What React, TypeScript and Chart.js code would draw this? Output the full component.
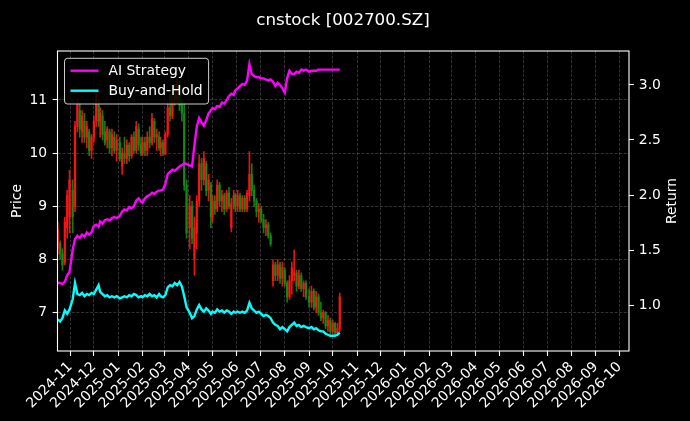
import React, { useEffect, useRef } from 'react';
import { Chart, registerables } from 'chart.js';

Chart.register(...registerables);

const chartTitle = 'cnstock [002700.SZ]';
const priceLabel = 'Price';
const returnLabel = 'Return';

const dates = [
  '2024-10-16', '2024-10-19', '2024-10-22', '2024-10-25', '2024-10-28', '2024-10-31',
  '2024-11-04', '2024-11-07', '2024-11-10', '2024-11-13', '2024-11-16', '2024-11-19', '2024-11-22', '2024-11-25', '2024-11-28',
  '2024-12-01', '2024-12-04', '2024-12-07', '2024-12-09', '2024-12-12', '2024-12-15', '2024-12-18', '2024-12-21', '2024-12-24', '2024-12-27', '2024-12-30',
  '2025-01-03', '2025-01-06', '2025-01-09', '2025-01-12', '2025-01-15', '2025-01-18', '2025-01-21', '2025-01-24', '2025-01-27', '2025-01-30',
  '2025-02-01', '2025-02-04', '2025-02-07', '2025-02-10', '2025-02-13', '2025-02-16', '2025-02-19', '2025-02-22', '2025-02-24', '2025-02-27',
  '2025-03-02', '2025-03-05', '2025-03-08', '2025-03-11', '2025-03-14', '2025-03-17', '2025-03-20', '2025-03-23', '2025-03-26', '2025-03-29',
  '2025-04-02', '2025-04-05', '2025-04-08', '2025-04-11', '2025-04-14', '2025-04-17', '2025-04-20', '2025-04-23', '2025-04-26', '2025-04-29',
  '2025-05-01', '2025-05-04', '2025-05-07', '2025-05-10', '2025-05-13', '2025-05-16', '2025-05-19', '2025-05-22', '2025-05-25', '2025-05-28', '2025-05-30',
  '2025-06-02', '2025-06-05', '2025-06-08', '2025-06-11', '2025-06-14', '2025-06-17', '2025-06-20', '2025-06-23', '2025-06-26', '2025-06-29',
  '2025-07-02', '2025-07-05', '2025-07-08', '2025-07-11', '2025-07-14', '2025-07-17', '2025-07-20', '2025-07-23', '2025-07-26', '2025-07-29',
  '2025-08-01', '2025-08-04', '2025-08-07', '2025-08-10', '2025-08-13', '2025-08-16', '2025-08-19', '2025-08-22', '2025-08-25', '2025-08-28',
  '2025-09-01', '2025-09-04', '2025-09-07', '2025-09-10', '2025-09-13', '2025-09-16', '2025-09-19', '2025-09-22', '2025-09-25', '2025-09-28',
  '2025-10-01', '2025-10-04', '2025-10-07', '2025-10-10',
];

const open = [
  8.2, 8.3, 8.1, 7.95, 8.6, 8.8,
  9.3, 9.0, 10.5, 10.8, 10.4, 10.6, 10.3, 10.4, 10.05,
  10.3, 10.6, 10.9, 10.6, 10.7, 10.4, 10.25, 10.4, 10.1, 10.3, 10.05,
  10.2, 9.75, 10.0, 9.9, 10.15, 9.95, 10.3, 10.05, 10.45, 10.15,
  10.0, 10.2, 10.05, 10.3, 10.2, 10.6, 10.3, 10.3, 10.1, 10.2,
  10.0, 10.35, 10.85, 10.7, 11.1, 11.0, 11.3, 10.9, 10.75, 9.4,
  8.6, 9.0, 8.0, 8.5, 9.1, 9.8, 9.5, 9.8, 9.3, 9.4,
  8.8, 9.1, 8.95, 9.4, 9.1, 9.2, 8.95, 9.25, 8.6, 9.05, 9.2,
  9.0, 9.2, 8.95, 9.15, 8.95, 9.2, 9.6, 9.3, 9.1, 8.9,
  8.95, 8.75, 8.6, 8.65, 8.45, 7.6, 7.9, 7.7, 7.9, 7.65,
  7.8, 7.55, 7.3, 7.6, 7.7, 7.75, 7.5, 7.7, 7.45, 7.55,
  7.3, 7.2, 7.4, 7.1, 7.3, 7.0, 6.9, 7.0, 6.75, 6.85,
  6.65, 6.8, 6.62, 6.7,
];

const high = [
  8.7, 8.35, 8.2, 8.8, 9.3, 9.68,
  9.5, 10.6, 11.0, 10.95, 10.8, 10.75, 10.6, 10.45, 10.35,
  10.7, 11.15, 11.0, 10.85, 10.8, 10.6, 10.5, 10.45, 10.45, 10.4, 10.35,
  10.3, 10.1, 10.3, 10.25, 10.2, 10.35, 10.4, 10.6, 10.55, 10.3,
  10.3, 10.3, 10.4, 10.5, 10.75, 10.65, 10.45, 10.4, 10.3, 10.25,
  10.4, 10.95, 11.1, 11.2, 11.3, 11.4, 11.35, 11.0, 10.95, 9.5,
  9.2, 9.1, 8.8, 9.2, 9.97, 9.9, 10.03, 9.85, 9.6, 9.45,
  9.2, 9.2, 9.5, 9.45, 9.3, 9.25, 9.3, 9.35, 9.15, 9.3, 9.25,
  9.3, 9.25, 9.2, 9.2, 9.3, 10.03, 9.8, 9.4, 9.15, 9.05,
  9.0, 8.85, 8.75, 8.7, 8.5, 8.0, 7.95, 8.0, 7.95, 7.95,
  7.85, 7.6, 7.7, 7.95, 8.18, 7.8, 7.8, 7.75, 7.6, 7.6,
  7.45, 7.5, 7.45, 7.4, 7.35, 7.2, 7.05, 7.02, 6.95, 6.9,
  6.85, 6.82, 6.8, 7.37,
];

const low = [
  8.1, 8.0, 7.8, 7.9, 8.4, 8.5,
  8.5, 8.9, 10.4, 10.3, 10.2, 10.2, 10.1, 9.95, 9.9,
  10.2, 10.5, 10.5, 10.3, 10.25, 10.15, 10.1, 10.0, 9.95, 10.0, 9.85,
  9.85, 9.6, 9.8, 9.8, 9.85, 9.9, 10.0, 10.0, 10.05, 9.95,
  9.95, 9.95, 9.95, 10.1, 10.15, 10.2, 10.05, 10.05, 9.95, 9.95,
  9.97, 10.3, 10.6, 10.65, 10.9, 10.95, 10.8, 10.6, 9.3, 8.4,
  8.2, 8.3, 7.7, 8.2, 9.0, 9.3, 9.4, 9.2, 9.1, 8.6,
  8.7, 8.85, 8.9, 9.0, 8.9, 8.85, 8.9, 8.95, 8.52, 8.95, 8.9,
  8.9, 8.9, 8.9, 8.9, 8.9, 9.1, 9.2, 9.0, 8.8, 8.7,
  8.7, 8.5, 8.45, 8.4, 8.25, 7.5, 7.6, 7.6, 7.55, 7.5,
  7.5, 7.2, 7.25, 7.35, 7.6, 7.4, 7.45, 7.4, 7.3, 7.25,
  7.1, 7.1, 7.05, 7.0, 6.95, 6.85, 6.8, 6.7, 6.65, 6.6,
  6.6, 6.58, 6.58, 6.64,
];

const close = [
  8.55, 8.1, 7.9, 8.7, 9.2, 9.5,
  8.8, 10.5, 10.9, 10.45, 10.7, 10.3, 10.5, 10.05, 10.3,
  10.6, 11.0, 10.6, 10.75, 10.35, 10.2, 10.45, 10.1, 10.35, 10.05, 10.25,
  9.9, 10.0, 9.9, 10.15, 9.95, 10.3, 10.05, 10.5, 10.15, 10.0,
  10.2, 10.05, 10.3, 10.2, 10.65, 10.3, 10.35, 10.1, 10.2, 10.0,
  10.35, 10.85, 10.7, 11.1, 11.0, 11.3, 10.9, 10.75, 9.4, 8.5,
  9.0, 8.4, 8.6, 9.1, 9.8, 9.5, 9.9, 9.3, 9.5, 8.8,
  9.1, 8.95, 9.4, 9.1, 9.2, 8.95, 9.25, 9.0, 9.05, 9.2, 9.0,
  9.2, 8.95, 9.15, 8.95, 9.25, 9.6, 9.3, 9.1, 8.9, 8.95,
  8.75, 8.6, 8.65, 8.45, 8.3, 7.9, 7.7, 7.9, 7.65, 7.85,
  7.55, 7.3, 7.6, 7.85, 7.75, 7.5, 7.7, 7.45, 7.55, 7.3,
  7.2, 7.4, 7.1, 7.3, 7.0, 6.9, 7.0, 6.75, 6.85, 6.65,
  6.8, 6.62, 6.7, 7.3,
];

const aiStrategy = [
  1.20, 1.20, 1.19, 1.21, 1.27, 1.30,
  1.50, 1.60, 1.63, 1.61, 1.64, 1.62, 1.66, 1.64, 1.66,
  1.72, 1.73, 1.71, 1.76, 1.74, 1.77, 1.78, 1.77, 1.79, 1.80, 1.79,
  1.81, 1.85, 1.87, 1.86, 1.89, 1.88, 1.90, 1.95, 1.97, 1.94,
  1.93, 1.97, 1.99, 2.00, 2.02, 2.01, 2.03, 2.04, 2.04, 2.05,
  2.10, 2.19, 2.21, 2.23, 2.22, 2.24, 2.26, 2.27, 2.29, 2.28,
  2.27, 2.26, 2.45, 2.62, 2.70, 2.66, 2.63, 2.68, 2.74, 2.77,
  2.79, 2.78, 2.81, 2.80, 2.84, 2.83, 2.86, 2.90, 2.92, 2.91, 2.95,
  2.97, 2.99, 3.01, 3.00, 3.04, 3.19, 3.10, 3.08, 3.07, 3.07,
  3.06, 3.06, 3.05, 3.04, 3.05, 3.03, 2.99, 3.02, 3.00, 2.97,
  2.93, 3.06, 3.13, 3.10, 3.10, 3.12, 3.11, 3.14, 3.13, 3.14,
  3.12, 3.13, 3.13, 3.13, 3.14, 3.14, 3.14, 3.14, 3.14, 3.14,
  3.14, 3.14, 3.14, 3.14,
];

const buyAndHold = [
  0.87, 0.85, 0.88, 0.95, 0.92, 0.96,
  1.05, 1.20, 1.10, 1.09, 1.11, 1.08, 1.10, 1.09, 1.11,
  1.10, 1.14, 1.18, 1.12, 1.10, 1.08, 1.09, 1.07, 1.08, 1.07, 1.08,
  1.06, 1.07, 1.08, 1.07, 1.09, 1.08, 1.10, 1.09, 1.07, 1.08,
  1.07, 1.09, 1.08, 1.10, 1.08, 1.09, 1.07, 1.10, 1.08, 1.07,
  1.09, 1.16, 1.18, 1.17, 1.20, 1.18, 1.21, 1.17, 1.08, 0.98,
  0.93, 0.88, 0.90, 0.96, 1.00, 0.96, 0.94, 0.97, 0.95, 0.92,
  0.94, 0.93, 0.96, 0.94, 0.95, 0.93, 0.95, 0.94, 0.92, 0.94, 0.93,
  0.94, 0.93, 0.94, 0.93, 0.95, 1.02, 0.97, 0.95, 0.93, 0.94,
  0.92, 0.90, 0.91, 0.90, 0.88, 0.84, 0.82, 0.81, 0.78, 0.80,
  0.78, 0.76, 0.80, 0.82, 0.84, 0.81, 0.82, 0.80, 0.81, 0.80,
  0.79, 0.80, 0.78, 0.79, 0.77, 0.76, 0.76, 0.74, 0.73, 0.72,
  0.72, 0.72, 0.73, 0.75,
];

const monthTicks = [
  '2024-11', '2024-12', '2025-01', '2025-02', '2025-03', '2025-04', '2025-05', '2025-06',
  '2025-07', '2025-08', '2025-09', '2025-10', '2025-11', '2025-12', '2026-01', '2026-02',
  '2026-03', '2026-04', '2026-05', '2026-06', '2026-07', '2026-08', '2026-09', '2026-10',
];
const priceTicks = [7, 8, 9, 10, 11];
const returnTicks = [1.0, 1.5, 2.0, 2.5, 3.0];
const priceRange = [6.28, 11.92];
const returnRange = [0.582, 3.309];
const xRangeDates = ['2024-10-15', '2026-10-13'];

const UP = 'rgba(255,20,20,0.9)';
const DOWN = 'rgba(20,140,20,0.9)';
const AI_COLOR = '#ff00ff';
const BH_COLOR = '#00ffff';
const GRID = 'rgba(200,200,200,0.32)';
const FONT = '"DejaVu Sans", sans-serif';
const LINE_W = 2.4;

const day = (s: string) => {
  const [y, m, d] = s.split('-').map(Number);
  return Date.UTC(y, m - 1, d || 1) / 864e5;
};

const decorations = {
  id: 'decorations',
  beforeDraw(chart: any) {
    const { ctx, width, height } = chart;
    ctx.save();
    ctx.fillStyle = '#000';
    ctx.fillRect(0, 0, width, height);
    ctx.restore();
  },
  afterDraw(chart: any) {
    const { ctx, chartArea: a } = chart;
    ctx.save();
    ctx.strokeStyle = '#fff';
    ctx.lineWidth = 1.1;
    ctx.strokeRect(a.left, a.top, a.right - a.left, a.bottom - a.top);
    ctx.fillStyle = '#fff';
    ctx.font = `16.7px ${FONT}`;
    ctx.textAlign = 'center';
    ctx.textBaseline = 'alphabetic';
    ctx.fillText(chartTitle, 343, 24.5);
    const midY = (a.top + a.bottom) / 2;
    ctx.font = `13.9px ${FONT}`;
    ctx.textBaseline = 'middle';
    ctx.save();
    ctx.translate(17, midY);
    ctx.rotate(-Math.PI / 2);
    ctx.fillText(priceLabel, 0, 0);
    ctx.restore();
    ctx.save();
    ctx.translate(672, midY);
    ctx.rotate(-Math.PI / 2);
    ctx.fillText(returnLabel, 0, 0);
    ctx.restore();
    const items = chart.data.datasets.filter((d: any) => d.type === 'line');
    const bx = a.left + 7;
    const by = a.top + 7.3;
    const textX = bx + 44;
    let maxW = 0;
    items.forEach((d: any) => { maxW = Math.max(maxW, ctx.measureText(d.label).width); });
    const bw = textX - bx + maxW + 6;
    const bh = 45.7;
    const r = 3;
    ctx.beginPath();
    ctx.moveTo(bx + r, by);
    ctx.lineTo(bx + bw - r, by);
    ctx.arcTo(bx + bw, by, bx + bw, by + r, r);
    ctx.lineTo(bx + bw, by + bh - r);
    ctx.arcTo(bx + bw, by + bh, bx + bw - r, by + bh, r);
    ctx.lineTo(bx + r, by + bh);
    ctx.arcTo(bx, by + bh, bx, by + bh - r, r);
    ctx.lineTo(bx, by + r);
    ctx.arcTo(bx, by, bx + r, by, r);
    ctx.closePath();
    ctx.fillStyle = 'rgba(0,0,0,0.8)';
    ctx.fill();
    ctx.strokeStyle = 'rgba(255,255,255,0.8)';
    ctx.lineWidth = 1;
    ctx.stroke();
    items.forEach((d: any, i: number) => {
      const y = by + 12.4 + i * 20;
      ctx.strokeStyle = d.borderColor;
      ctx.lineWidth = LINE_W;
      ctx.beginPath();
      ctx.moveTo(bx + 6, y);
      ctx.lineTo(bx + 34, y);
      ctx.stroke();
      ctx.fillStyle = '#fff';
      ctx.textAlign = 'left';
      ctx.textBaseline = 'middle';
      ctx.fillText(d.label, textX, y + 0.5);
    });
    ctx.restore();
  },
};

export default function App() {
  const ref = useRef<HTMLCanvasElement>(null);

  useEffect(() => {
    if (!ref.current) return;
    Chart.defaults.font.family = FONT;
    Chart.defaults.color = '#fff';
    const xs = dates.map(day);
    const candleColors = close.map((c, i) => (c >= open[i] ? UP : DOWN));

    const chart = new Chart(ref.current, {
      type: 'line',
      data: {
        datasets: [
          {
            type: 'line',
            label: 'AI Strategy',
            data: xs.map((x, i) => ({ x, y: aiStrategy[i] })),
            yAxisID: 'yR',
            borderColor: AI_COLOR,
            backgroundColor: AI_COLOR,
            borderWidth: LINE_W,
            pointRadius: 0,
            tension: 0,
            order: 0,
          },
          {
            type: 'line',
            label: 'Buy-and-Hold',
            data: xs.map((x, i) => ({ x, y: buyAndHold[i] })),
            yAxisID: 'yR',
            borderColor: BH_COLOR,
            backgroundColor: BH_COLOR,
            borderWidth: LINE_W,
            pointRadius: 0,
            tension: 0,
            order: 1,
          },
          {
            type: 'bar',
            label: 'body',
            data: xs.map((x, i) => ({ x, y: [open[i], close[i]] })),
            yAxisID: 'y',
            backgroundColor: candleColors,
            barThickness: 1.6,
            grouped: false,
            order: 2,
          },
          {
            type: 'bar',
            label: 'wick',
            data: xs.map((x, i) => ({ x, y: [low[i], high[i]] })),
            yAxisID: 'y',
            backgroundColor: candleColors,
            barThickness: 1,
            grouped: false,
            order: 3,
          },
        ] as any,
      },
      options: {
        responsive: false,
        maintainAspectRatio: false,
        animation: false,
        devicePixelRatio: 1,
        events: [],
        layout: { padding: { top: 51, left: 0, right: 0, bottom: 0 } },
        plugins: {
          legend: { display: false },
          tooltip: { enabled: false },
          title: { display: false },
        },
        scales: {
          x: {
            type: 'linear',
            min: day(xRangeDates[0]) + 0.7,
            max: day(xRangeDates[1]) + 0.2,
            offset: false,
            afterBuildTicks: (s: any) => {
              s.ticks = monthTicks.map((m) => ({ value: day(m + '-01') }));
            },
            afterFit: (s: any) => {
              s.height = 70;
            },
            ticks: {
              autoSkip: false,
              minRotation: 45,
              maxRotation: 45,
              color: '#fff',
              padding: 3,
              font: { size: 13.9, family: FONT },
              callback: (_v: any, i: number) => monthTicks[i],
            },
            grid: {
              color: GRID,
              lineWidth: 0.8,
              offset: false,
              drawTicks: true,
              tickLength: 4.9,
              tickColor: '#fff',
              tickWidth: 1.1,
              tickBorderDash: [],
            },
            border: { display: false, dash: [3, 1.6] },
          },
          y: {
            type: 'linear',
            position: 'left',
            min: priceRange[0],
            max: priceRange[1],
            afterBuildTicks: (s: any) => {
              s.ticks = priceTicks.map((v) => ({ value: v }));
            },
            afterFit: (s: any) => {
              s.width = 57.5;
            },
            ticks: {
              color: '#fff',
              padding: 5.5,
              font: { size: 13.9, family: FONT },
              callback: (v: any) => String(v),
            },
            grid: {
              color: GRID,
              lineWidth: 0.8,
              drawTicks: true,
              tickLength: 4.9,
              tickColor: '#fff',
              tickWidth: 1.1,
              tickBorderDash: [],
            },
            border: { display: false, dash: [3, 1.6] },
          },
          yR: {
            type: 'linear',
            position: 'right',
            min: returnRange[0],
            max: returnRange[1],
            afterBuildTicks: (s: any) => {
              s.ticks = returnTicks.map((v) => ({ value: v }));
            },
            afterFit: (s: any) => {
              s.width = 61;
            },
            ticks: {
              color: '#fff',
              padding: 4.9,
              font: { size: 13.9, family: FONT },
              callback: (v: any) => Number(v).toFixed(1),
            },
            grid: {
              drawOnChartArea: false,
              drawTicks: true,
              tickLength: 4.9,
              color: '#fff',
              tickColor: '#fff',
              tickWidth: 1.1,
            },
            border: { display: false },
          },
        },
      } as any,
      plugins: [decorations],
    });

    return () => chart.destroy();
  }, []);

  return (
    <div style={{ position: 'fixed', left: 0, top: 0, width: 690, height: 421, background: '#000' }}>
      <canvas ref={ref} width={690} height={421} style={{ display: 'block', width: 690, height: 421 }} />
    </div>
  );
}
